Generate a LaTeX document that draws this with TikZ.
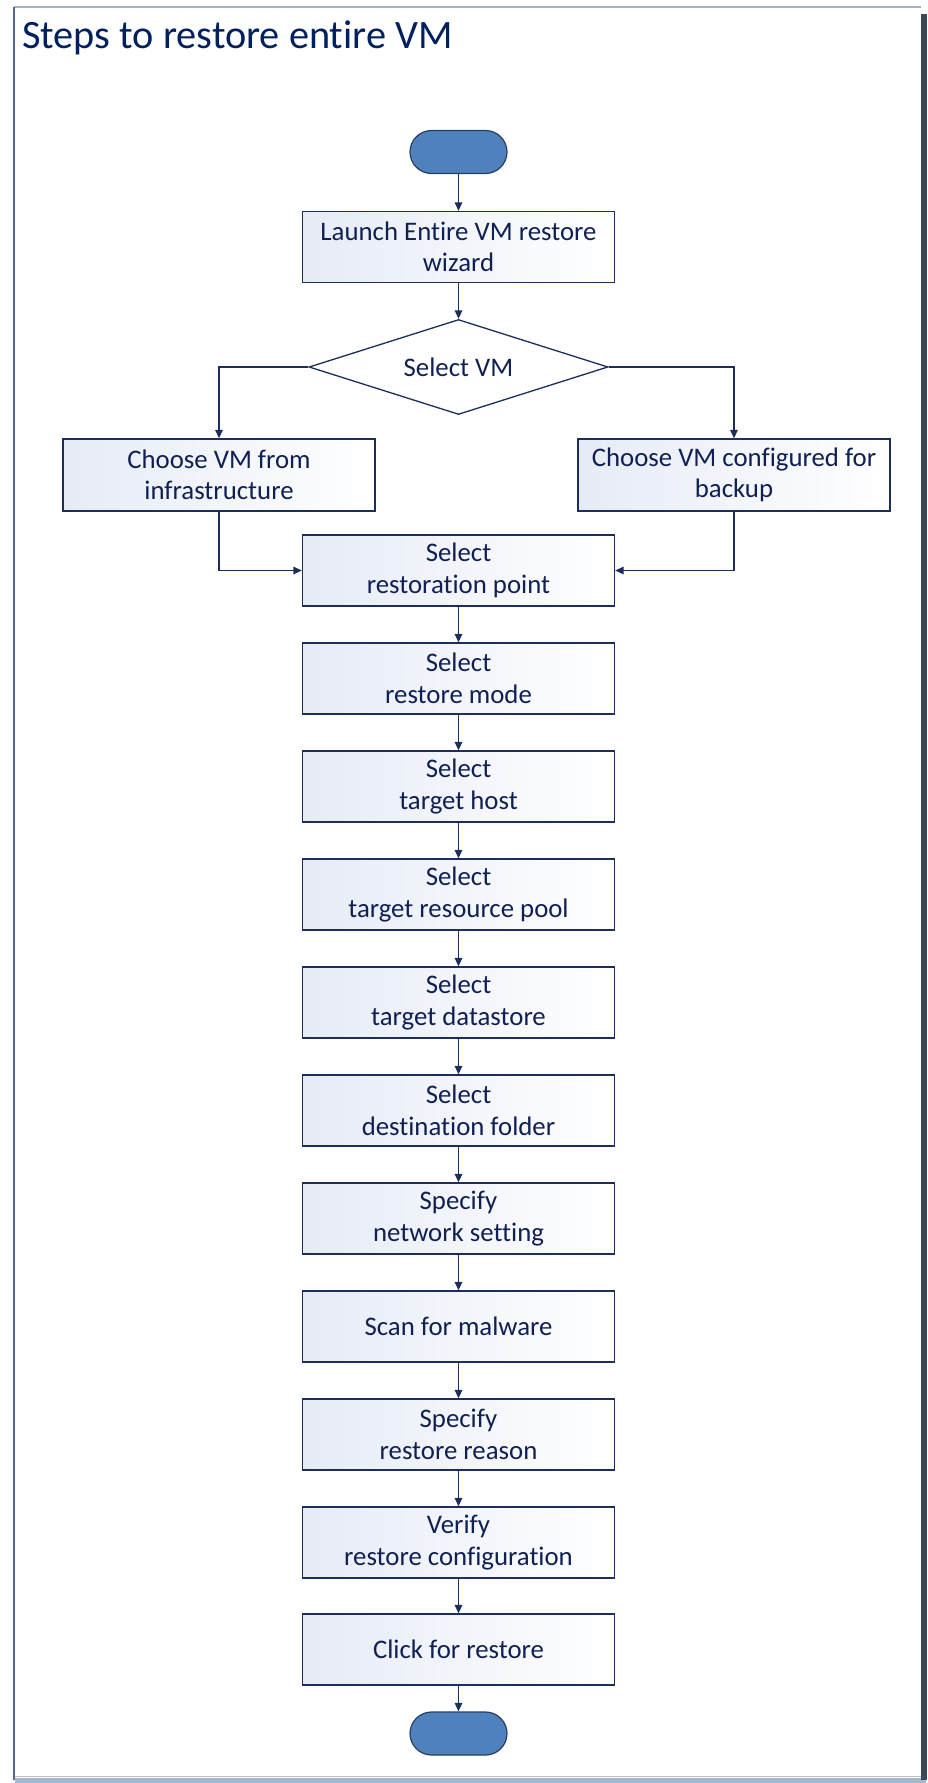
\documentclass[tikz,border=0pt]{standalone}
\usepackage{fontspec}
\setmainfont{Carlito}[Ligatures=NoCommon]
\usetikzlibrary{shapes.geometric,arrows.meta}
\definecolor{navy}{RGB}{16,32,84}
\definecolor{titlec}{RGB}{0,32,96}
\definecolor{linec}{RGB}{28,46,92}
\definecolor{boxlt}{RGB}{230,235,246}
\definecolor{boxmid}{RGB}{244,246,251}
\definecolor{termfill}{RGB}{79,129,189}
\definecolor{termdraw}{RGB}{40,62,100}
\definecolor{framec}{RGB}{160,178,202}
\definecolor{framel}{RGB}{84,105,138}
\definecolor{shadowc}{RGB}{60,72,88}
\definecolor{bandc}{RGB}{164,184,208}
\definecolor{bandl}{RGB}{190,190,190}
\begin{document}
\begin{tikzpicture}[x=1pt,y=-1pt,
  stepbox/.style={draw=linec, line width=1.3pt, left color=boxlt, middle color=boxmid, right color=white,
    minimum width=312pt, minimum height=71pt, inner sep=0pt, align=center, text=navy,
    font=\fontsize{26.8}{31.5}\selectfont},
  term/.style={draw=termdraw, line width=1.2pt, fill=termfill, rounded corners=21.5pt,
    minimum width=97pt, minimum height=43pt, inner sep=0pt},
  decision/.style={diamond, aspect=3.15, draw=linec, line width=1.3pt, fill=white,
    minimum width=299pt, minimum height=95pt, inner sep=0pt, text=navy,
    font=\fontsize{26.8}{31.5}\selectfont},
  conn/.style={draw=linec, line width=1.4pt, -{Triangle[length=8.5pt,width=7.5pt]}},
  titlestyle/.style={anchor=base west, inner sep=0pt, text=titlec,
    font=\fontsize{40.3}{46}\selectfont}
]
\useasboundingbox (0,0) rectangle (927,1783);
\fill[white] (0,0) rectangle (927,1783);
% frame
\fill[bandc] (15,1778) rectangle (926,1783);
\draw[bandl, line width=1.5pt] (15,1776.5) -- (921,1776.5);
\fill[shadowc] (921,14) rectangle (926.5,1780);
\draw[framec, line width=2pt] (14,7) -- (921,7);
\draw[framel, line width=2pt] (14,7) -- (14,1780);

\node[titlestyle] (title) at (22,48) {Steps to restore entire VM};

\node[term] (start) at (458.5,152) {};
\node[stepbox] (launch) at (458.5,247) {Launch Entire VM restore\\wizard};
\node[decision] (selvm) at (458.5,367) {Select VM};
\node[stepbox, minimum height=72pt] (fromi) at (219,475) {Choose VM from\\infrastructure};
\node[stepbox, minimum height=72pt] (fromb) at (734,475) {Choose VM configured for\\backup};
\node[stepbox] (rpoint) at (458.5,570.5) {Select\\restoration point};
\node[stepbox] (rmode) at (458.5,678.5) {Select\\restore mode};
\node[stepbox] (thost) at (458.5,786.5) {Select\\target host};
\node[stepbox] (tpool) at (458.5,894.5) {Select\\target resource pool};
\node[stepbox] (tds) at (458.5,1002.5) {Select\\target datastore};
\node[stepbox] (dfolder) at (458.5,1110.5) {Select\\destination folder};
\node[stepbox] (netset) at (458.5,1218.5) {Specify\\network setting};
\node[stepbox] (scan) at (458.5,1326.5) {Scan for malware};
\node[stepbox] (reason) at (458.5,1434.5) {Specify\\restore reason};
\node[stepbox] (verify) at (458.5,1542.5) {Verify\\restore configuration};
\node[stepbox] (click) at (458.5,1649.5) {Click for restore};
\node[term] (stop) at (458.5,1733.5) {};

\draw[conn] (start) -- (launch);
\draw[conn] (launch) -- (selvm);
\draw[conn] (selvm.west) -| (fromi.north);
\draw[conn] (selvm.east) -| (fromb.north);
\draw[conn] (fromi.south) |- (rpoint.west);
\draw[conn] (fromb.south) |- (rpoint.east);
\draw[conn] (rpoint) -- (rmode);
\draw[conn] (rmode) -- (thost);
\draw[conn] (thost) -- (tpool);
\draw[conn] (tpool) -- (tds);
\draw[conn] (tds) -- (dfolder);
\draw[conn] (dfolder) -- (netset);
\draw[conn] (netset) -- (scan);
\draw[conn] (scan) -- (reason);
\draw[conn] (reason) -- (verify);
\draw[conn] (verify) -- (click);
\draw[conn] (click) -- (stop);
\end{tikzpicture}
\end{document}
